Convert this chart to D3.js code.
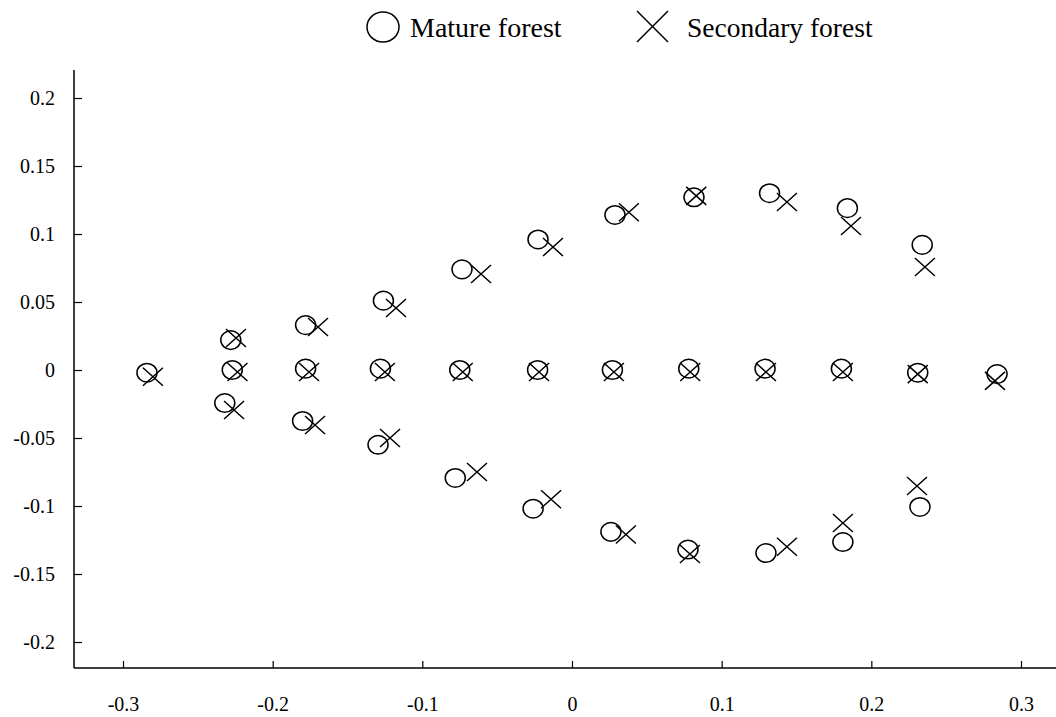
<!DOCTYPE html>
<html><head><meta charset="utf-8">
<script src="https://cdn.jsdelivr.net/npm/d3@7"></script>
<style>body{margin:0;background:#fff}svg{display:block}</style>
</head><body>
<script>
const xTicks = [-0.3,-0.2,-0.1,0,0.1,0.2,0.3];
const yTicks = [-0.2,-0.15,-0.1,-0.05,0,0.05,0.1,0.15,0.2];
const seriesNames = ["Mature forest","Secondary forest"];

const matureX = [-0.284,-0.227,-0.178,-0.128,-0.075,-0.023,0.027,0.078,0.129,0.180,0.231,0.284,
  -0.228,-0.178,-0.126,-0.0735,-0.0227,0.0287,0.0815,0.132,0.184,0.234,
  -0.232,-0.180,-0.1296,-0.078,-0.026,0.026,0.0775,0.1296,0.181,0.2325];
const matureY = [-0.002,0,0.001,0.001,0,0,0,0.001,0.001,0.001,-0.002,-0.003,
  0.022,0.033,0.051,0.074,0.096,0.114,0.127,0.130,0.119,0.092,
  -0.0243,-0.0375,-0.055,-0.0794,-0.102,-0.119,-0.132,-0.1346,-0.1265,-0.1007];
const secondaryX = [-0.280,-0.2235,-0.1757,-0.125,-0.073,-0.022,0.028,0.079,0.1296,0.181,0.231,0.2826,
  -0.2245,-0.1697,-0.1176,-0.0608,-0.0127,0.038,0.083,0.1436,0.1864,0.2358,
  -0.2258,-0.1717,-0.1216,-0.0635,-0.014,0.036,0.0788,0.1436,0.181,0.2305];
const secondaryY = [-0.005,-0.0015,-0.0015,-0.0015,-0.0015,-0.0015,-0.0015,-0.0015,-0.0015,-0.0015,-0.003,-0.008,
  0.0235,0.0316,0.0456,0.0706,0.0904,0.116,0.128,0.1235,0.1059,0.0757,
  -0.0294,-0.0404,-0.05,-0.075,-0.095,-0.121,-0.1353,-0.130,-0.1125,-0.0853];

const W = 1056, H = 717;
const svg = d3.select("body").append("svg").attr("width", W).attr("height", H)
  .style("font-family", "'Liberation Serif','Times New Roman',serif");

const x = d3.scaleLinear().domain([-0.3, 0.3]).range([123, 1021]);
const y = d3.scaleLinear().domain([-0.2, 0.2]).range([642, 98]);
const axX = 74, axY = 668;

// axes lines
svg.append("line").attr("x1", axX).attr("x2", axX).attr("y1", 70).attr("y2", axY)
  .attr("stroke", "#000").attr("stroke-width", 1.5);
svg.append("line").attr("x1", axX).attr("x2", W).attr("y1", axY).attr("y2", axY)
  .attr("stroke", "#000").attr("stroke-width", 1.5);

const fmt = d => d === 0 ? "0" : String(+d.toFixed(2));

const gy = svg.append("g").attr("transform", `translate(${axX},0)`)
  .call(d3.axisLeft(y).tickValues(yTicks).tickSize(-8).tickPadding(19).tickFormat(fmt));
gy.select(".domain").remove();
gy.selectAll("line").attr("stroke", "#000").attr("stroke-width", 1.2);
gy.selectAll("text").attr("font-size", 20).attr("font-family", "'Liberation Serif',serif").attr("fill", "#000");

const gx = svg.append("g").attr("transform", `translate(0,${axY})`)
  .call(d3.axisBottom(x).tickValues(xTicks).tickSize(-7).tickPadding(29).tickFormat(fmt));
gx.select(".domain").remove();
gx.selectAll("line").attr("stroke", "#000").attr("stroke-width", 1.2);
gx.selectAll("text").attr("font-size", 20).attr("font-family", "'Liberation Serif',serif").attr("fill", "#000");

const mature = matureX.map((v, i) => ({x: v, y: matureY[i]}));
const secondary = secondaryX.map((v, i) => ({x: v, y: secondaryY[i]}));

svg.append("g").selectAll("ellipse").data(mature).join("ellipse")
  .attr("cx", d => x(d.x)).attr("cy", d => y(d.y)).attr("rx", 10).attr("ry", 9.3)
  .attr("fill", "none").attr("stroke", "#000").attr("stroke-width", 1.5);

const xs = 10, ys = 9;
svg.append("g").selectAll("path").data(secondary).join("path")
  .attr("d", d => {
    const cx = x(d.x), cy = y(d.y);
    return `M${cx-xs},${cy-ys}L${cx+xs},${cy+ys}M${cx-xs},${cy+ys}L${cx+xs},${cy-ys}`;
  })
  .attr("fill", "none").attr("stroke", "#000").attr("stroke-width", 1.5);

// legend
const lg = svg.append("g");
lg.append("ellipse").attr("cx", 383).attr("cy", 27).attr("rx", 16).attr("ry", 15)
  .attr("fill", "none").attr("stroke", "#000").attr("stroke-width", 1.5);
lg.append("text").attr("x", 410).attr("y", 37).attr("font-size", 28).text(seriesNames[0]);
lg.append("path").attr("d", "M637,11L668,42M637,42L668,11")
  .attr("fill", "none").attr("stroke", "#000").attr("stroke-width", 1.5);
lg.append("text").attr("x", 687).attr("y", 37).attr("font-size", 27.5).text(seriesNames[1]);
</script>
</body></html>
